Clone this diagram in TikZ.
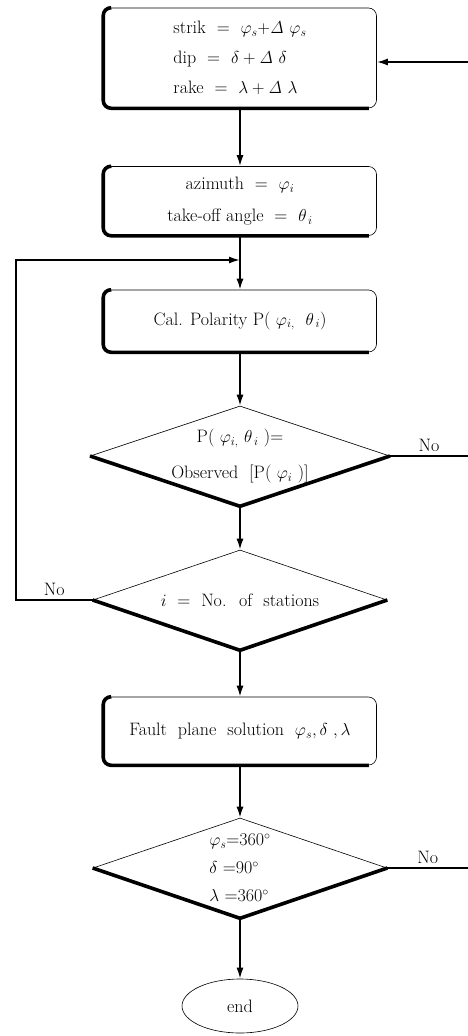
\documentclass[tikz,border=0pt]{standalone}
\usepackage{tikz}
\usetikzlibrary{arrows.meta,shapes,positioning}

\begin{document}
\begin{tikzpicture}[x=1pt, y=-1pt, font=\fontsize{18}{30}\selectfont,
  box/.style={draw, line width=0.6pt, rounded corners=8pt, minimum width=273pt, inner sep=0pt, align=center},
  decision/.style={draw, line width=0.6pt, diamond, aspect=3, inner sep=0pt, minimum width=294pt, minimum height=100pt, align=center},
  heavy/.style={line width=3.6pt},
  flow/.style={line width=1.7pt, -{Latex[length=11pt,width=7pt]}},
  lead/.style={line width=1.5pt}]
  \useasboundingbox (0,0) rectangle (468,1036);

  \node[box, minimum height=100pt, align=left] (set) at (240,58)
    {strik \ = \ $\varphi_s{+}\mathit{\Delta}\ \varphi_s$\\ dip \ = \ $\delta + \mathit{\Delta}\ \delta$\\ rake \ = \ $\lambda + \mathit{\Delta}\ \lambda$};
  \node[box, minimum height=69pt] (azi) at (240,201)
    {azimuth \ = \ $\varphi_i$\\[2pt] take-off angle \ = \ $\theta_{\,i}$};
  \node[box, minimum height=62pt] (pol) at (240,321)
    {Cal. Polarity P( $\varphi_{i,}\ \ \theta_{\,i}$)};
  \node[decision] (match) at (240,456)
    {P( $\varphi_{i,}\ \theta_{\,i}$ )=\\[6pt] Observed \ [P( $\varphi_i$ )]};
  \node[decision] (stn) at (240,600) {$i$ \ = \ No. \ of \ stations};
  \node[box, minimum height=68pt] (fps) at (240,731)
    {Fault \ plane \ solution \ $\varphi_s, \delta\ , \lambda$};
  \node[decision, align=left, font=\fontsize{18}{28}\selectfont] (lim) at (240,868)
    {$\varphi_s$=360$^\circ$\\ $\delta$ =90$^\circ$\\ $\lambda$ =360$^\circ$};
  \node[draw, ellipse, line width=0.6pt, minimum width=116pt, minimum height=54pt] (stop) at (240,1006) {end};

  % heavy lower edges
  \foreach \b in {set,azi,pol,fps}
    \draw[heavy, rounded corners=8pt] ([xshift=8pt]\b.north west) -- (\b.north west) -- (\b.south west) -- ([xshift=-8pt]\b.south east);
  \foreach \d in {match,stn,lim}
    \draw[heavy] (\d.west) -- (\d.south) -- (\d.east);

  \coordinate (join) at (240,260);
  \coordinate (lx) at (16,260);
  \coordinate (rx) at (468,62);

  \draw[flow] (set) -- (azi);
  \draw[lead] (azi) -- (join);
  \draw[flow] (join) -- (pol);
  \draw[flow] (pol) -- (match);
  \draw[flow] (match) -- (stn);
  \draw[flow] (stn) -- (fps);
  \draw[flow] (fps) -- (lim);
  \draw[flow] (lim) -- (stop);

  \draw[flow] (stn.west) -- node[above] {No} (stn.west -| lx) |- (join);
  \draw[flow] (rx) -- (rx -| set.east);
  \draw[lead] (match.east) -- node[above] {No} (match.east -| rx);
  \draw[lead] (lim.east) -- node[above] {No} (lim.east -| rx);
\end{tikzpicture}
\end{document}
